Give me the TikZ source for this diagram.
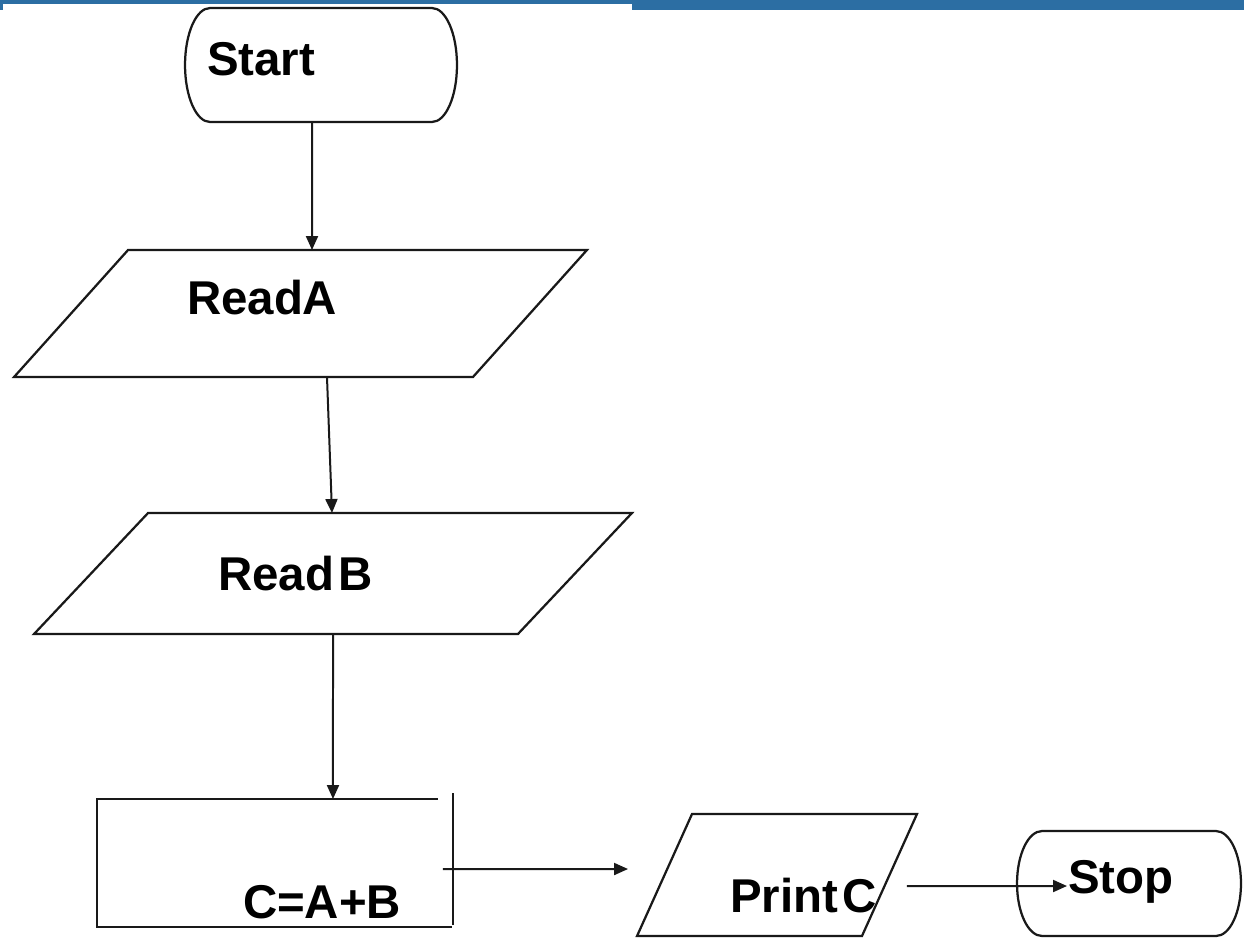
\documentclass[tikz,border=0pt]{standalone}
\usepackage{fontspec}
\setmainfont{Liberation Sans}
\usetikzlibrary{arrows.meta}
\definecolor{barblue}{RGB}{44,110,163}
\tikzset{
  outline/.style={draw=black!90,line width=0.045cm},
  anchorbox/.style={rectangle,draw=none,inner sep=0pt,outer sep=0pt},
  label/.style={inner sep=0pt,outer sep=0pt,anchor=base west,font=\fontsize{27}{32}\selectfont\bfseries},
  flowline/.style={draw=black!90,line width=0.04cm,-{Triangle[width=0.24cm,length=0.28cm]}}
}
% #1 node name, #2 vertical control offset (about 0.45 x half height)
\newcommand\termoutline[2]{%
  \draw[outline] ([xshift=0.5cm]#1.north west) -- ([xshift=-0.5cm]#1.north east)
    .. controls ([xshift=-0.224cm]#1.north east) and ([yshift=-#2]#1.north east) .. (#1.east)
    .. controls ([yshift=#2]#1.south east) and ([xshift=-0.224cm]#1.south east) .. ([xshift=-0.5cm]#1.south east)
    -- ([xshift=0.5cm]#1.south west)
    .. controls ([xshift=0.224cm]#1.south west) and ([yshift=#2]#1.south west) .. (#1.west)
    .. controls ([yshift=-#2]#1.north west) and ([xshift=0.224cm]#1.north west) .. cycle;}
\begin{document}
\begin{tikzpicture}[x=0.02cm,y=-0.02cm]
\useasboundingbox (0,0) rectangle (1244,938);
% top bars
\fill[barblue] (0,0) rectangle (632,4);
\fill[barblue] (0,0) rectangle (3,10);
\fill[barblue] (632,0) rectangle (1244,10);
% shapes
\node[anchorbox,minimum width=5.44cm,minimum height=2.28cm] (start) at (321,65) {};
\termoutline{start}{0.51cm}
\node[anchorbox,minimum width=11.46cm,minimum height=2.54cm] (readA) at (300.5,313.5) {};
\draw[outline] (readA.south west) -- ([xshift=-2.28cm]readA.south east) -- (readA.north east) -- ([xshift=2.28cm]readA.north west) -- cycle;
\node[anchorbox,minimum width=11.96cm,minimum height=2.42cm] (readB) at (333,573.5) {};
\draw[outline] (readB.south west) -- ([xshift=-2.28cm]readB.south east) -- (readB.north east) -- ([xshift=2.28cm]readB.north west) -- cycle;
\node[anchorbox,minimum width=7.12cm,minimum height=2.56cm] (calc) at (275,863) {};
\draw[outline] ([xshift=-0.3cm]calc.north east) -- (calc.north west) -- (calc.south west) -- ([xshift=-0.02cm]calc.south east);
\draw[outline] ([yshift=0.12cm]calc.north east) -- ([yshift=0.04cm]calc.south east);
\node[anchorbox,minimum width=5.6cm,minimum height=2.44cm] (printC) at (777,875) {};
\draw[outline] (printC.south west) -- ([xshift=-1.1cm]printC.south east) -- (printC.north east) -- ([xshift=1.1cm]printC.north west) -- cycle;
\node[anchorbox,minimum width=4.48cm,minimum height=2.1cm] (stop) at (1129,883.5) {};
\termoutline{stop}{0.47cm}
% labels
\node[label] (tstart) at (207,75) {Start};
\node[label] (treadA) at (187,314) {ReadA};
\node[label] (treadB) at (218,590) {\spaceskip=0.1em Read B};
\node[label] (tcalc) at (243,918) {C=A+B};
\node[label] (tprint) at (730,912) {\spaceskip=0.1em Print C};
\node[label] (tstop) at (1068,893) {Stop};
% connectors
\draw[flowline] ([xshift=-0.18cm]start.south) -- ([xshift=0.23cm]readA.north);
\draw[flowline] ([xshift=0.53cm]readA.south) -- ([xshift=-0.02cm]readB.north);
\draw[flowline] (readB.south) -- ([xshift=1.16cm]calc.north);
\draw[flowline] ([xshift=-0.2cm,yshift=-0.12cm]calc.east) -- ([xshift=-0.18cm,yshift=0.12cm]printC.west);
\draw[flowline] ([xshift=-0.2cm,yshift=-0.22cm]printC.east) -- ([xshift=1cm,yshift=-0.05cm]stop.west);
\end{tikzpicture}
\end{document}
